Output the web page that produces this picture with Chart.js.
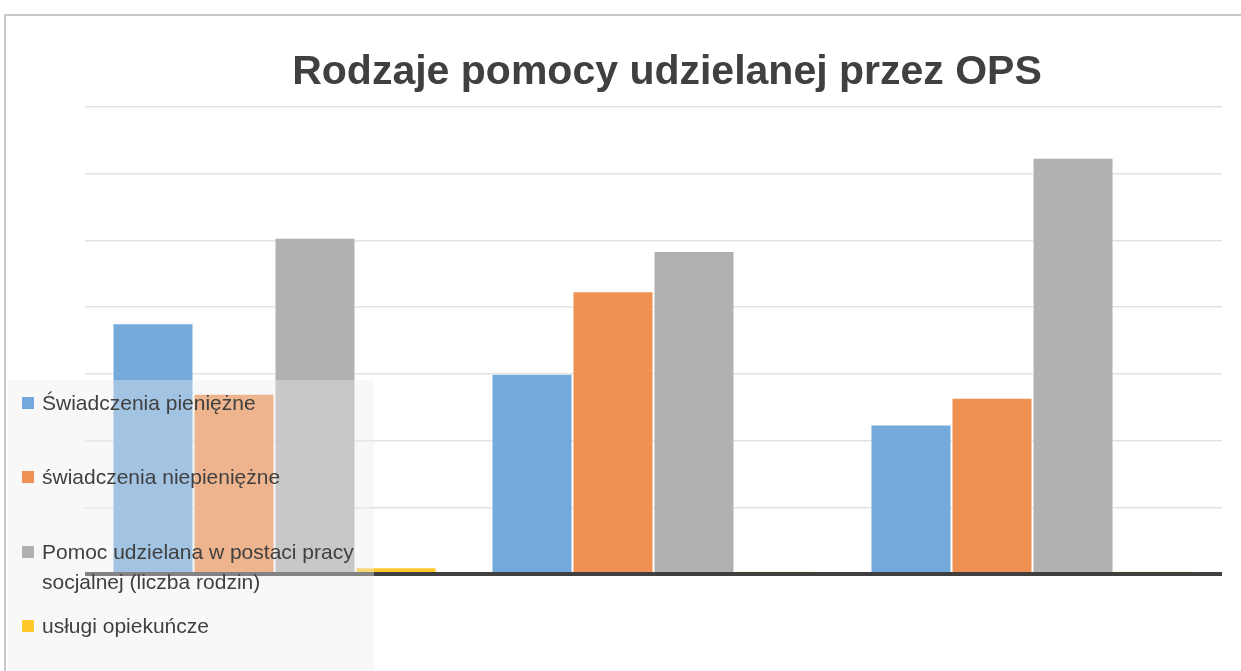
<!DOCTYPE html>
<html>
<head>
<meta charset="utf-8">
<script src="https://cdn.jsdelivr.net/npm/chart.js@4/dist/chart.umd.min.js"></script>
<style>
  html, body { margin: 0; padding: 0; background: #ffffff; overflow: hidden; }
  body { width: 1241px; height: 671px; position: relative; font-family: "Liberation Sans", Arial, sans-serif; }
  #frame { position: absolute; left: 4px; top: 14px; width: 1400px; height: 800px;
           border-top: 2px solid #c9c9c9; border-left: 2px solid #c9c9c9; box-sizing: border-box; }
  #wrap { position: absolute; left: 0; top: 0; width: 1241px; height: 671px; }
  #title { position: absolute; left: 167px; width: 1000px; top: 46px; line-height: 48px; text-align: center;
           font-size: 41px; font-weight: bold; color: #404040; white-space: nowrap; }
  #legend { position: absolute; left: 8px; top: 380px; width: 366px; height: 291px;
            background: rgba(237,237,237,0.39); }
  .item { position: absolute; left: 14px; width: 345px; font-size: 21px; line-height: 30px; color: #404040; }
  .sw { position: absolute; left: 0; top: 9px; width: 12px; height: 12px; }
  .txt { position: absolute; left: 20px; top: 0; width: 325px; }
</style>
</head>
<body>
<div id="frame"></div>
<div id="wrap"><canvas id="c" width="1241" height="671"></canvas></div>
<div id="title"></div>
<div id="legend"></div>
<script>
// ---- data ----
const categories = ["", "", ""];
const seriesNames = [
  "Świadczenia pieniężne",
  "świadczenia niepieniężne",
  "Pomoc udzielana w postaci pracy socjalnej (liczba rodzin)",
  "usługi opiekuńcze"
];
const swiadczeniaPieniezne = [188, 150, 112];
const swiadczeniaNiepieniezne = [135, 212, 132];
const pracaSocjalna = [252, 242, 312];
const uslugiOpiekuncze = [5, 2, 2];
const yTicks = [0, 50, 100, 150, 200, 250, 300, 350];
const titleText = "Rodzaje pomocy udzielanej przez OPS";

// ---- styles ----
const colors = ["#73a9db", "#ef9152", "#b1b1b1", "#ffc82c"];
const seriesValues = [swiadczeniaPieniezne, swiadczeniaNiepieniezne, pracaSocjalna, uslugiOpiekuncze];

const datasets = seriesValues.map((vals, i) => ({
  label: seriesNames[i],
  data: vals,
  backgroundColor: colors[i],
  borderColor: "rgba(255,255,255,0.55)",
  borderWidth: 1,
  categoryPercentage: 0.855,
  barPercentage: 1.0
}));

const chart = new Chart(document.getElementById("c"), {
  type: "bar",
  data: { labels: categories, datasets },
  options: {
    responsive: false,
    animation: false,
    layout: { padding: { left: 85, right: 19, top: 107, bottom: 97 } },
    plugins: {
      legend: { display: false },
      tooltip: { enabled: false },
      title: { display: false }
    },
    scales: {
      x: { display: false },
      y: {
        display: true,
        min: yTicks[0],
        max: yTicks[yTicks.length - 1],
        afterBuildTicks: (s) => { s.ticks = yTicks.map(v => ({ value: v })); },
        ticks: { display: false },
        border: { display: false },
        grid: {
          drawTicks: false,
          color: (ctx) => ctx.tick && ctx.tick.value === 0 ? "#404040" : "#e2e2e2",
          lineWidth: (ctx) => ctx.tick && ctx.tick.value === 0 ? 4 : 1.5
        }
      }
    }
  }
});

// ---- title (centred at x = 667) ----
document.getElementById("title").textContent = titleText;

// ---- legend overlay ----
const legend = document.getElementById("legend");
const itemTops = [8, 82, 157, 231];
chart.data.datasets.forEach((ds, i) => {
  const it = document.createElement("div");
  it.className = "item";
  it.style.top = itemTops[i] + "px";
  const sw = document.createElement("div");
  sw.className = "sw";
  sw.style.background = ds.backgroundColor;
  const tx = document.createElement("div");
  tx.className = "txt";
  tx.textContent = ds.label;
  it.appendChild(sw);
  it.appendChild(tx);
  legend.appendChild(it);
});
</script>
</body>
</html>
